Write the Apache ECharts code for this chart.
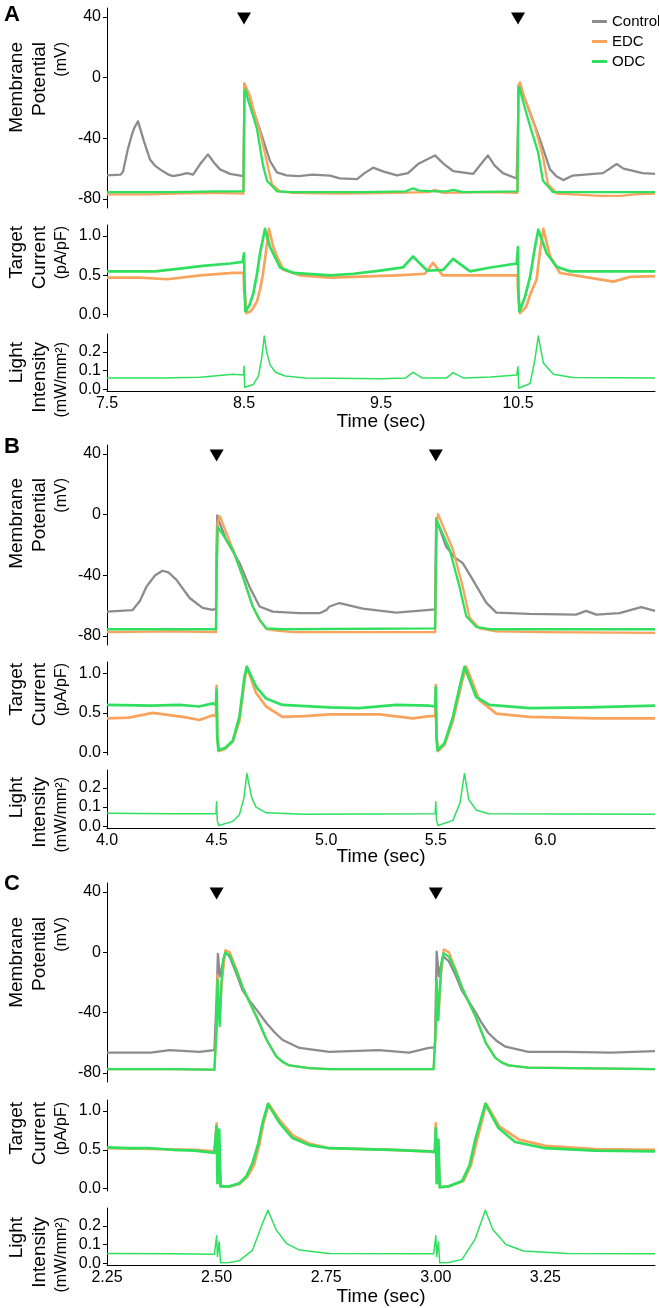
<!DOCTYPE html>
<html>
<head>
<meta charset="utf-8">
<script src="https://cdn.jsdelivr.net/npm/echarts@6/dist/echarts.min.js"></script>
<style>
html, body { margin: 0; padding: 0; background: #fff; }
#traces { width: 659px; height: 1308px; }
</style>
</head>
<body>
<div id="traces"></div>
<script>
// stimulus times (triangles) and axis ticks
var stimA = [8.5, 10.5];
var stimB = [4.5, 5.5];
var stimC = [2.5, 3.0];
var ticksA = [7.5, 8.5, 9.5, 10.5];
var ticksB = [4.0, 4.5, 5.0, 5.5, 6.0];
var ticksC = [2.25, 2.5, 2.75, 3.0, 3.25];
var mpTicks = [-80, -40, 0, 40];
var curTicks = [0, 0.5, 1.0];
var lightTicks = [0, 0.1, 0.2];

// panel A traces [time, value]
var mpCtrlA = [[7.5,-64.5],[7.6,-64],[7.617,-62],[7.65,-48],[7.682,-37.5],[7.7,-33],[7.726,-28.7],[7.77,-42],[7.814,-54],[7.85,-58],[7.887,-60.5],[7.95,-64],[7.982,-65],[8.04,-64],[8.084,-63],[8.128,-64],[8.18,-57],[8.237,-50.6],[8.28,-56],[8.325,-60.5],[8.398,-63.5],[8.496,-65],[8.5,-35],[8.503,-4],[8.512,-3],[8.54,-12],[8.566,-21],[8.6,-30],[8.639,-40.7],[8.69,-55],[8.74,-62.5],[8.81,-64.5],[8.9,-65],[9.0,-64],[9.128,-64.6],[9.2,-66.5],[9.325,-67],[9.38,-63],[9.442,-59.4],[9.52,-62],[9.617,-64.5],[9.697,-63],[9.77,-57],[9.894,-51.3],[9.96,-57],[10.026,-61.6],[10.172,-63.5],[10.23,-57],[10.28,-51.3],[10.33,-58],[10.39,-63],[10.49,-66.5],[10.5,-35],[10.503,-5.2],[10.515,-6],[10.55,-14],[10.587,-23],[10.62,-31],[10.66,-40.7],[10.734,-60.5],[10.78,-65],[10.83,-67.6],[10.9,-64.6],[11.12,-63],[11.17,-60],[11.22,-57],[11.27,-60],[11.317,-61],[11.41,-63],[11.5,-63.5]];
var mpEdcA = [[7.5,-77],[7.8,-77],[8.0,-76.5],[8.3,-76],[8.496,-76.5],[8.5,-40],[8.503,-4],[8.512,-3.2],[8.544,-12],[8.566,-20],[8.617,-36],[8.668,-56],[8.704,-70.4],[8.763,-75],[8.858,-76],[9.2,-76.5],[9.6,-76],[9.85,-75.5],[9.894,-74],[9.95,-76],[10.3,-75.5],[10.496,-76],[10.5,-40],[10.503,-5],[10.515,-3],[10.55,-14],[10.609,-27.6],[10.682,-52],[10.719,-70.4],[10.785,-76.5],[10.9,-77],[11.1,-78],[11.25,-78],[11.35,-77],[11.5,-76.5]];
var mpOdcA = [[7.5,-75.5],[8.0,-75.5],[8.3,-75],[8.496,-75],[8.5,-40],[8.503,-10],[8.51,-7.8],[8.53,-15],[8.566,-25],[8.595,-34],[8.639,-58],[8.668,-68],[8.741,-75],[8.85,-75.5],[9.4,-75.5],[9.68,-75],[9.734,-73],[9.78,-74.5],[9.9,-75],[9.98,-75],[10.026,-74],[10.1,-75.5],[10.496,-75],[10.5,-40],[10.503,-8],[10.508,-6],[10.55,-20],[10.588,-32],[10.646,-49],[10.682,-68],[10.755,-75.5],[11.0,-75.5],[11.5,-75.5]];
var curEdcA = [[7.5,0.47],[7.74,0.47],[7.94,0.45],[8.18,0.5],[8.42,0.53],[8.497,0.53],[8.5,0.35],[8.52,0.02],[8.545,0.04],[8.566,0.08],[8.595,0.17],[8.617,0.32],[8.635,0.48],[8.653,0.7],[8.682,1.09],[8.714,0.86],[8.741,0.74],[8.787,0.57],[8.909,0.5],[9.128,0.47],[9.617,0.5],[9.82,0.52],[9.88,0.66],[9.95,0.5],[10.2,0.5],[10.497,0.5],[10.5,0.3],[10.515,0.02],[10.56,0.1],[10.588,0.25],[10.636,0.45],[10.66,0.8],[10.685,1.09],[10.734,0.74],[10.807,0.53],[10.95,0.49],[11.196,0.42],[11.318,0.48],[11.5,0.49]];
var curOdcA = [[7.5,0.55],[7.7,0.55],[7.85,0.55],[8.0,0.58],[8.2,0.62],[8.4,0.65],[8.49,0.67],[8.497,0.66],[8.5,0.78],[8.505,0.3],[8.51,0.04],[8.54,0.12],[8.568,0.27],[8.595,0.52],[8.617,0.78],[8.653,1.09],[8.69,0.86],[8.763,0.6],[8.86,0.53],[9.128,0.5],[9.3,0.52],[9.493,0.56],[9.66,0.6],[9.734,0.74],[9.836,0.56],[9.953,0.57],[10.026,0.71],[10.15,0.55],[10.3,0.6],[10.49,0.65],[10.5,0.86],[10.503,0.3],[10.51,0.04],[10.55,0.22],[10.588,0.48],[10.624,0.86],[10.648,1.08],[10.709,0.78],[10.782,0.61],[10.88,0.55],[11.5,0.55]];
var lightA = [[7.5,0.06],[7.9,0.06],[8.18,0.063],[8.42,0.08],[8.497,0.075],[8.5,0.123],[8.505,0.01],[8.51,0.008],[8.568,0.025],[8.605,0.07],[8.63,0.17],[8.648,0.284],[8.665,0.2],[8.69,0.13],[8.73,0.09],[8.8,0.07],[8.95,0.06],[9.5,0.055],[9.68,0.06],[9.734,0.09],[9.8,0.06],[9.98,0.06],[10.026,0.088],[10.1,0.06],[10.3,0.065],[10.49,0.075],[10.5,0.12],[10.505,0.005],[10.588,0.03],[10.624,0.16],[10.648,0.284],[10.685,0.14],[10.758,0.08],[10.9,0.062],[11.5,0.06]];

// panel B traces
var mpCtrlB = [[4.0,-64],[4.116,-63],[4.15,-57],[4.18,-47.5],[4.22,-40],[4.253,-37],[4.28,-38],[4.317,-43],[4.377,-55],[4.436,-61.5],[4.482,-62.8],[4.497,-62],[4.5,-20],[4.503,-0.5],[4.51,-4],[4.544,-16.7],[4.605,-32],[4.65,-47.5],[4.696,-60.6],[4.756,-64],[4.878,-65],[4.97,-65],[5.0,-63],[5.015,-60.6],[5.061,-58.3],[5.167,-62],[5.319,-64.6],[5.471,-62.8],[5.497,-62.5],[5.5,-20],[5.502,-2.2],[5.51,-6],[5.547,-21],[5.585,-28],[5.623,-32],[5.669,-43],[5.73,-58],[5.776,-64.6],[5.927,-65.5],[6.14,-66],[6.186,-63.5],[6.232,-66],[6.338,-65],[6.437,-61],[6.5,-63.5]];
var mpEdcB = [[4.0,-77.5],[4.3,-77],[4.497,-77.5],[4.5,-40],[4.505,-5],[4.515,-0.9],[4.574,-23],[4.62,-41],[4.665,-60.6],[4.696,-69.4],[4.727,-75.5],[4.772,-76.5],[4.85,-77.5],[5.2,-77.5],[5.497,-77.5],[5.5,-40],[5.505,-5],[5.51,0.4],[5.578,-23],[5.623,-47.5],[5.654,-68],[5.699,-75],[5.776,-77],[6.0,-77.5],[6.5,-78]];
var mpOdcB = [[4.0,-75.6],[4.497,-75.6],[4.5,-40],[4.505,-8],[4.513,-8],[4.574,-23],[4.62,-41],[4.665,-60.6],[4.696,-69.4],[4.727,-75],[4.8,-75.6],[5.497,-75],[5.5,-40],[5.503,-3.5],[5.563,-23],[5.608,-47.5],[5.639,-67],[5.684,-74],[5.745,-75.6],[6.5,-75.6]];
var curEdcB = [[4.0,0.43],[4.1,0.44],[4.209,0.5],[4.346,0.45],[4.422,0.41],[4.483,0.47],[4.497,0.46],[4.5,0.84],[4.503,0.2],[4.51,0.02],[4.54,0.05],[4.574,0.14],[4.604,0.4],[4.627,0.9],[4.638,1.08],[4.68,0.75],[4.726,0.58],[4.8,0.45],[4.9,0.46],[5.015,0.48],[5.243,0.48],[5.395,0.43],[5.471,0.46],[5.497,0.46],[5.5,0.85],[5.503,0.2],[5.51,0.02],[5.54,0.1],[5.578,0.4],[5.62,0.9],[5.639,1.08],[5.699,0.66],[5.776,0.49],[5.927,0.45],[6.232,0.43],[6.5,0.43]];
var curOdcB = [[4.0,0.6],[4.2,0.59],[4.33,0.6],[4.42,0.58],[4.483,0.62],[4.497,0.6],[4.5,0.79],[4.503,0.2],[4.508,0.03],[4.54,0.06],[4.574,0.15],[4.604,0.45],[4.627,0.95],[4.638,1.08],[4.68,0.83],[4.726,0.68],[4.8,0.6],[5.015,0.57],[5.15,0.56],[5.319,0.6],[5.471,0.59],[5.497,0.58],[5.5,0.82],[5.503,0.2],[5.508,0.03],[5.54,0.12],[5.578,0.45],[5.615,0.9],[5.631,1.08],[5.684,0.7],[5.745,0.6],[5.927,0.56],[6.2,0.57],[6.5,0.59]];
var lightB = [[4.0,0.067],[4.3,0.065],[4.497,0.065],[4.5,0.128],[4.503,0.03],[4.51,0.003],[4.574,0.025],[4.604,0.06],[4.625,0.15],[4.638,0.277],[4.66,0.15],[4.68,0.1],[4.726,0.07],[4.9,0.062],[5.497,0.065],[5.5,0.128],[5.503,0.03],[5.51,0.003],[5.578,0.03],[5.61,0.12],[5.631,0.277],[5.65,0.14],[5.684,0.085],[5.74,0.065],[6.5,0.062]];

// panel C traces
var mpCtrlC = [[2.25,-66.5],[2.35,-66.5],[2.393,-64.8],[2.461,-66],[2.495,-64.8],[2.5,-30],[2.503,-1],[2.507,-16],[2.512,-10],[2.52,0],[2.53,-3],[2.545,-14],[2.559,-25],[2.575,-32],[2.591,-38],[2.614,-47],[2.632,-53],[2.65,-58],[2.689,-63.4],[2.757,-66],[2.87,-64.8],[2.939,-66.5],[2.984,-63.3],[2.998,-63],[3.0,-30],[3.002,0.5],[3.007,-16],[3.012,-8],[3.018,-2.9],[3.03,-6],[3.045,-15],[3.059,-25],[3.091,-40],[3.105,-47],[3.12,-53.5],[3.14,-59],[3.159,-62.6],[3.211,-66],[3.3,-66],[3.4,-66.5],[3.5,-65.5]];
var mpEdcC = [[2.25,-77.4],[2.4,-77.5],[2.495,-78],[2.5,-50],[2.502,-15],[2.507,-45],[2.512,-20],[2.52,1.5],[2.53,0],[2.545,-11],[2.559,-22.8],[2.575,-33],[2.591,-42.7],[2.614,-58],[2.636,-69],[2.65,-72.5],[2.666,-75],[2.711,-76.8],[2.757,-77.5],[2.995,-77.5],[3.0,-50],[3.002,-20],[3.006,-45],[3.012,-15],[3.018,2],[3.03,0],[3.045,-11],[3.059,-22.8],[3.075,-33],[3.091,-42.7],[3.114,-60],[3.136,-70],[3.15,-73],[3.166,-75],[3.211,-76.5],[3.5,-77.5]];
var mpOdcC = [[2.25,-77.4],[2.4,-77.5],[2.495,-77.8],[2.5,-50],[2.502,-18],[2.505,-40],[2.507,-49],[2.511,-20],[2.515,-5],[2.52,0],[2.53,-2],[2.545,-12],[2.559,-22.8],[2.575,-33],[2.591,-42.7],[2.614,-58],[2.636,-69],[2.65,-72.5],[2.666,-75],[2.711,-76.8],[2.757,-77.5],[2.995,-77.5],[3.0,-50],[3.002,-18],[3.005,-45],[3.01,-20],[3.014,-5],[3.018,-0.5],[3.03,-3],[3.045,-12],[3.059,-22.8],[3.075,-33],[3.091,-42.7],[3.114,-60],[3.136,-70],[3.15,-73],[3.166,-75],[3.211,-76.5],[3.5,-77.5]];
var curEdcC = [[2.25,0.52],[2.35,0.51],[2.45,0.5],[2.495,0.48],[2.5,0.84],[2.503,0.08],[2.506,0.4],[2.509,0.03],[2.53,0.03],[2.552,0.06],[2.57,0.15],[2.585,0.3],[2.597,0.55],[2.607,0.85],[2.619,1.09],[2.645,0.87],[2.675,0.68],[2.711,0.58],[2.757,0.52],[2.9,0.5],[2.984,0.48],[2.998,0.48],[3.0,0.84],[3.003,0.08],[3.006,0.4],[3.009,0.02],[3.03,0.03],[3.063,0.1],[3.08,0.3],[3.093,0.6],[3.115,1.09],[3.145,0.8],[3.19,0.63],[3.25,0.55],[3.364,0.51],[3.5,0.5]];
var curOdcC = [[2.25,0.53],[2.3,0.52],[2.35,0.52],[2.4,0.5],[2.45,0.49],[2.495,0.46],[2.5,0.8],[2.502,0.07],[2.506,0.76],[2.509,0.03],[2.53,0.03],[2.552,0.07],[2.568,0.16],[2.582,0.33],[2.595,0.58],[2.605,0.85],[2.617,1.09],[2.643,0.85],[2.673,0.65],[2.711,0.56],[2.757,0.52],[2.9,0.5],[2.984,0.48],[2.998,0.47],[3.0,0.78],[3.002,0.07],[3.006,0.63],[3.009,0.02],[3.03,0.03],[3.06,0.1],[3.077,0.3],[3.09,0.63],[3.113,1.09],[3.143,0.78],[3.181,0.6],[3.249,0.52],[3.363,0.49],[3.5,0.48]];
var lightC = [[2.25,0.052],[2.4,0.05],[2.495,0.048],[2.5,0.146],[2.502,0.035],[2.506,0.115],[2.509,0.002],[2.53,0.003],[2.552,0.013],[2.582,0.07],[2.605,0.215],[2.617,0.283],[2.636,0.178],[2.659,0.106],[2.689,0.07],[2.757,0.052],[2.995,0.05],[3.0,0.146],[3.002,0.035],[3.006,0.115],[3.009,0.002],[3.03,0.003],[3.06,0.02],[3.09,0.13],[3.113,0.283],[3.13,0.18],[3.16,0.1],[3.2,0.065],[3.3,0.052],[3.5,0.05]];

var colCtrl = '#8c8c8c', colEdc = '#f9a35d', colOdc = '#2fe05f';
var fam = '"Liberation Sans", Arial, sans-serif';

var panels = [
    { range: [7.5, 11.5], ticks: ticksA, dec: 1, stim: stimA, ctrl: mpCtrlA, edc: mpEdcA, odc: mpOdcA, cEdc: curEdcA, cOdc: curOdcA, light: lightA,
      tops: [8, 225, 334], heights: [200, 92, 57], letter: 'A', letterY: 15, labelTops: [42, 226, 342], timeY: 422 },
    { range: [4.0, 6.5], ticks: ticksB, dec: 1, stim: stimB, ctrl: mpCtrlB, edc: mpEdcB, odc: mpOdcB, cEdc: curEdcB, cOdc: curOdcB, light: lightB,
      tops: [445, 662, 770], heights: [200, 93, 58], letter: 'B', letterY: 447, labelTops: [478, 663, 777], timeY: 857 },
    { range: [2.25, 3.5], ticks: ticksC, dec: 2, stim: stimC, ctrl: mpCtrlC, edc: mpEdcC, odc: mpOdcC, cEdc: curEdcC, cOdc: curOdcC, light: lightC,
      tops: [883, 1100, 1208], heights: [199, 91, 57], letter: 'C', letterY: 884, labelTops: [917, 1102, 1217], timeY: 1297 }
];
var yRanges = [[-86, 46], [-0.03, 1.14], [-0.01, 0.295]];
var yTickSets = [mpTicks, curTicks, lightTicks];
var yDec = [0, 1, 1];
var yNames = [['Membrane', 'Potential', '(mV)'], ['Target', 'Current', '(pA/pF)'], ['Light', 'Intensity', '(mW/mm\u00b2)']];

var grids = [], xAxes = [], yAxes = [], series = [], graphics = [];

panels.forEach(function (p, pi) {
    for (var k = 0; k < 3; k++) {
        var gi = pi * 3 + k;
        var isBottom = (k === 2);
        grids.push({ left: 107, width: 548, top: p.tops[k], height: p.heights[k] });
        xAxes.push({
            type: 'value', gridIndex: gi, min: p.range[0], max: p.range[1],
            splitLine: { show: false },
            axisLine: { show: isBottom, onZero: false, lineStyle: { color: '#000', width: 1 } },
            axisTick: { show: false },
            axisLabel: {
                show: isBottom, customValues: p.ticks, margin: 5, fontSize: 16, color: '#000', fontFamily: fam,
                formatter: (function (d) { return function (v) { return v.toFixed(d); }; })(p.dec)
            }
        });
        yAxes.push({
            type: 'value', gridIndex: gi, min: yRanges[k][0], max: yRanges[k][1],
            splitLine: { show: false },
            axisLine: { show: true, onZero: false, lineStyle: { color: '#000', width: 1 } },
            axisTick: { show: true, customValues: yTickSets[k], length: 4, lineStyle: { color: '#000' } },
            axisLabel: {
                customValues: yTickSets[k], margin: 6, fontSize: 16, color: '#000', fontFamily: fam,
                formatter: (function (d) { return function (v) { return v.toFixed(d); }; })(yDec[k])
            }
        });
        // y-axis title, three rotated lines
        yNames[k].forEach(function (txt, li) {
            graphics.push({
                type: 'text', x: [17, 40, 62][li], y: p.labelTops[k], rotation: Math.PI / 2,
                style: { text: txt, font: (li < 2 ? '19px ' : '16px ') + fam, fill: '#000', textAlign: 'right', textVerticalAlign: 'middle' }
            });
        });
    }
    var g0 = pi * 3;
    function line(name, data, gi, color, w) {
        series.push({ name: name, type: 'line', xAxisIndex: gi, yAxisIndex: gi, data: data, showSymbol: false, symbol: 'none',
            lineStyle: { color: color, width: w, join: 'round' }, itemStyle: { color: color }, animation: false, silent: true });
    }
    line('Control', p.ctrl, g0, colCtrl, 2.3);
    line('EDC', p.edc, g0, colEdc, 2.3);
    line('ODC', p.odc, g0, colOdc, 2.3);
    line('EDC', p.cEdc, g0 + 1, colEdc, 2.7);
    line('ODC', p.cOdc, g0 + 1, colOdc, 2.7);
    line('ODC', p.light, g0 + 2, colOdc, 1.5);
    series.push({
        name: 'stim', type: 'scatter', xAxisIndex: g0, yAxisIndex: g0, symbol: 'triangle', symbolRotate: 180, symbolSize: [14, 12],
        itemStyle: { color: '#000', opacity: 1 }, data: p.stim.map(function (t) { return [t, 39]; }), animation: false, silent: true
    });
    graphics.push({ type: 'text', x: 4, y: p.letterY, style: { text: p.letter, font: 'bold 22px ' + fam, fill: '#000', textAlign: 'left', textVerticalAlign: 'middle' } });
    graphics.push({ type: 'text', x: 381, y: p.timeY, style: { text: 'Time (sec)', font: '19px ' + fam, fill: '#000', textAlign: 'center', textVerticalAlign: 'middle' } });
});

var myChart = echarts.init(document.getElementById('traces'));
option = {
    backgroundColor: '#fff',
    animation: false,
    grid: grids,
    xAxis: xAxes,
    yAxis: yAxes,
    legend: {
        data: ['Control', 'EDC', 'ODC'], orient: 'vertical', left: 587, top: 9,
        icon: 'rect', itemWidth: 15, itemHeight: 3, itemGap: 5, selectedMode: false,
        textStyle: { fontSize: 15, color: '#000', fontFamily: fam }
    },
    graphic: graphics,
    series: series
};
myChart.setOption(option);
</script>
</body>
</html>
